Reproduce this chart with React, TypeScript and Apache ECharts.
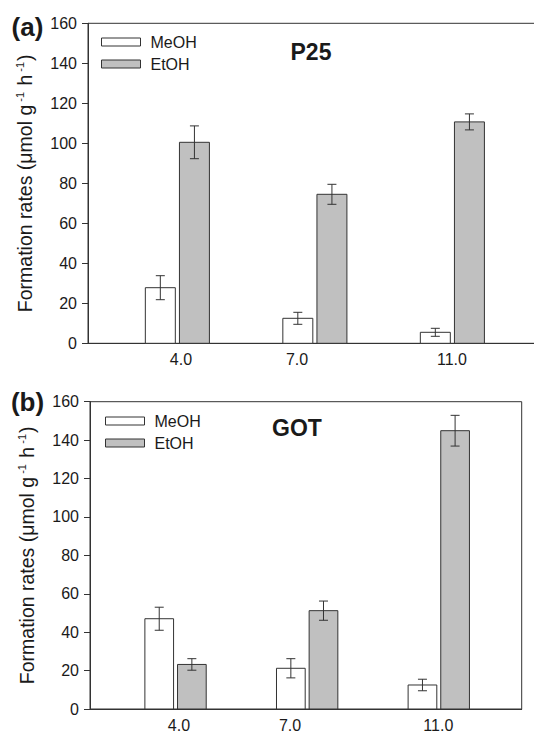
import React, { useEffect, useRef } from "react";
import * as echarts from "echarts";

// ---- data ----
const categories = ["4.0", "7.0", "11.0"];
const pHValues = [4, 7, 11];
const seriesNames = ["MeOH", "EtOH"];
const panelLabels = ["(a)", "(b)"];
const panelTitles = ["P25", "GOT"];

const p25MeOH = [27.8, 12.5, 5.5];
const p25MeOHErr = [6.0, 3.0, 2.0];
const p25EtOH = [100.5, 74.5, 110.7];
const p25EtOHErr = [8.2, 5.0, 4.0];

const gotMeOH = [47.0, 21.2, 12.5];
const gotMeOHErr = [6.0, 5.0, 3.0];
const gotEtOH = [23.2, 51.2, 144.9];
const gotEtOHErr = [3.0, 5.0, 8.0];

// ---- styles ----
const FONT = "'Liberation Sans', Arial, Helvetica, sans-serif";
const EDGE = "#333333";
const TEXT = "#1a1a1a";
const FILLS = ["#ffffff", "#c0c0c0"];
const BAR_W = 0.218;
const BAR_GAP = 0.03;
const CAP = 4.5;

function barSeries(name: string, panel: number, values: number[], side: number, fill: string) {
  return {
    type: "custom",
    name,
    xAxisIndex: panel * 2,
    yAxisIndex: panel,
    data: values.map((v, i) => [i, v]),
    itemStyle: { color: fill, borderColor: EDGE, borderWidth: 1 },
    z: 2,
    renderItem: (_p: any, api: any) => {
      const i = api.value(0) as number;
      const v = api.value(1) as number;
      const left = side < 0 ? i - BAR_GAP / 2 - BAR_W : i + BAR_GAP / 2;
      const a = api.coord([left, 0]);
      const b = api.coord([left + BAR_W, v]);
      return {
        type: "rect",
        shape: { x: a[0], y: b[1], width: b[0] - a[0], height: a[1] - b[1] },
        style: { fill, stroke: EDGE, lineWidth: 1 },
      };
    },
  };
}

function errSeries(name: string, panel: number, values: number[], errs: number[], side: number) {
  return {
    type: "custom",
    name: name + " err",
    xAxisIndex: panel * 2,
    yAxisIndex: panel,
    data: values.map((v, i) => [i, v, errs[i]]),
    z: 3,
    renderItem: (_p: any, api: any) => {
      const i = api.value(0) as number;
      const v = api.value(1) as number;
      const e = api.value(2) as number;
      const cx = i + side * (BAR_GAP / 2 + BAR_W / 2);
      const hi = api.coord([cx, v + e]);
      const lo = api.coord([cx, v - e]);
      const st = { stroke: EDGE, lineWidth: 1 };
      return {
        type: "group",
        children: [
          { type: "line", shape: { x1: hi[0], y1: hi[1], x2: lo[0], y2: lo[1] }, style: st },
          { type: "line", shape: { x1: hi[0] - CAP, y1: hi[1], x2: hi[0] + CAP, y2: hi[1] }, style: st },
          { type: "line", shape: { x1: lo[0] - CAP, y1: lo[1], x2: lo[0] + CAP, y2: lo[1] }, style: st },
        ],
      };
    },
  };
}

const yName = "{a|Formation rates (μmol g}{s|-1}{a| h}{s|-1}{a|)}";

function yAxisFor(panel: number) {
  return {
    type: "value",
    gridIndex: panel,
    min: 0,
    max: 160,
    interval: 20,
    axisLine: { show: true, onZero: false, lineStyle: { color: EDGE, width: 1 } },
    axisTick: { show: true, inside: false, length: 6, lineStyle: { color: EDGE } },
    axisLabel: { margin: 11, fontSize: 16, color: TEXT, fontFamily: FONT },
    splitLine: { show: false },
    name: yName,
    nameLocation: "middle",
    nameRotate: 90,
    nameGap: 52,
    nameTextStyle: {
      color: TEXT,
      fontFamily: FONT,
      rich: {
        a: { fontSize: 19.5, fontFamily: FONT, color: TEXT, lineHeight: 22 },
        s: { fontSize: 11, fontFamily: FONT, color: TEXT, lineHeight: 11, verticalAlign: "top", padding: [0, 1, 0, 3] },
      },
    },
  };
}

function xAxesFor(panel: number) {
  return [
    { type: "value", gridIndex: panel, min: -0.65, max: 2.63, show: false, axisLine: { onZero: false } },
    {
      type: "value",
      gridIndex: panel,
      position: "bottom",
      min: 1.6,
      max: 13.25,
      axisLine: { show: true, onZero: false, lineStyle: { color: EDGE, width: 1 } },
      axisTick: { show: false },
      splitLine: { show: false },
      axisLabel: {
        customValues: pHValues,
        margin: 8,
        fontSize: 16,
        color: TEXT,
        fontFamily: FONT,
        showMinLabel: true,
        showMaxLabel: true,
        hideOverlap: false,
        formatter: (v: number) => {
          const k = pHValues.indexOf(v);
          return k >= 0 ? categories[k] : "";
        },
      },
    },
  ];
}

function legendFor(left: number, top: number) {
  return {
    orient: "vertical",
    left,
    top,
    padding: 0,
    itemWidth: 39,
    itemHeight: 8,
    itemGap: 6,
    selectedMode: false,
    textStyle: { fontSize: 16, color: TEXT, fontFamily: FONT, padding: [0, 0, 0, 5] },
    data: seriesNames.map((n, k) => ({
      name: n,
      icon: "rect",
      itemStyle: { color: FILLS[k], borderColor: EDGE, borderWidth: 1 },
    })),
  };
}

export default function App() {
  const ref = useRef<HTMLDivElement>(null);
  useEffect(() => {
    document.body.style.margin = "0";
    if (!ref.current) return;
    const chart = echarts.init(ref.current, null, { renderer: "svg" });
    const data = [
      [p25MeOH, p25MeOHErr, p25EtOH, p25EtOHErr],
      [gotMeOH, gotMeOHErr, gotEtOH, gotEtOHErr],
    ];
    const series: any[] = [];
    data.forEach((d, p) => {
      series.push(barSeries(seriesNames[0], p, d[0], -1, FILLS[0]));
      series.push(barSeries(seriesNames[1], p, d[2], 1, FILLS[1]));
      series.push(errSeries(seriesNames[0], p, d[0], d[1], -1));
      series.push(errSeries(seriesNames[1], p, d[2], d[3], 1));
    });
    const option: any = {
      animation: false,
      backgroundColor: "#ffffff",
      textStyle: { fontFamily: FONT },
      grid: [
        { left: 88, top: 23.3, width: 451, height: 320, show: true, borderColor: EDGE, borderWidth: 1, backgroundColor: "transparent", outerBoundsMode: "none", containLabel: false },
        { left: 90, top: 401.7, width: 431.7, height: 307.3, show: true, borderColor: EDGE, borderWidth: 1, backgroundColor: "transparent", outerBoundsMode: "none", containLabel: false },
      ],
      xAxis: [...xAxesFor(0), ...xAxesFor(1)],
      yAxis: [yAxisFor(0), yAxisFor(1)],
      legend: [legendFor(101, 34), legendFor(105, 413)],
      graphic: [
        { type: "text", x: 27.5, y: 27, style: { text: panelLabels[0], fontSize: 26, fontWeight: "bold", fontFamily: FONT, fill: TEXT, textAlign: "center", textVerticalAlign: "middle" } },
        { type: "text", x: 27.5, y: 402, style: { text: panelLabels[1], fontSize: 26, fontWeight: "bold", fontFamily: FONT, fill: TEXT, textAlign: "center", textVerticalAlign: "middle" } },
        { type: "text", x: 311, y: 52, style: { text: panelTitles[0], fontSize: 23, fontWeight: "bold", fontFamily: FONT, fill: TEXT, textAlign: "center", textVerticalAlign: "middle" } },
        { type: "text", x: 297, y: 428, style: { text: panelTitles[1], fontSize: 23, fontWeight: "bold", fontFamily: FONT, fill: TEXT, textAlign: "center", textVerticalAlign: "middle" } },
      ],
      series,
    };
    chart.setOption(option);
    return () => chart.dispose();
  }, []);
  return <div ref={ref} style={{ width: 534, height: 733 }} />;
}
